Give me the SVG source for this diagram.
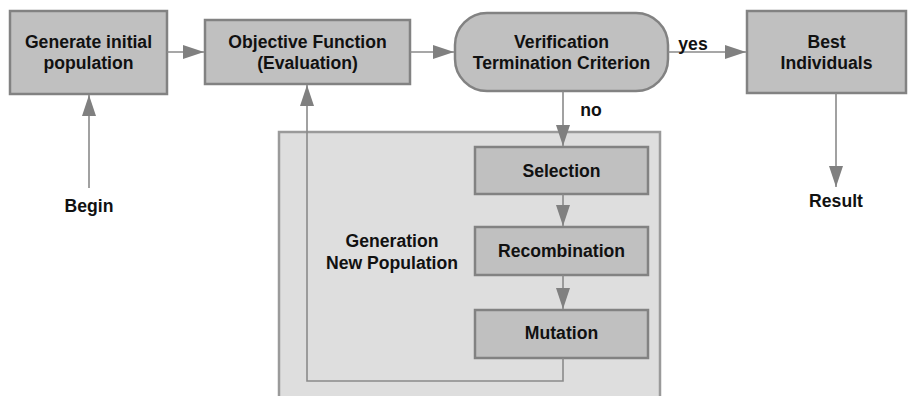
<svg xmlns="http://www.w3.org/2000/svg" width="910" height="396" viewBox="0 0 910 396">
<style>
.box{fill:#c0c0c0;stroke:#828282;stroke-width:2.5}
.cont{fill:#dedede;stroke:#9a9a9a;stroke-width:2.5}
.t{font-family:"Liberation Sans",Arial,sans-serif;font-weight:bold;font-size:17.6px;fill:#111;text-anchor:middle}
.c{fill:none;stroke:#8a8a8a;stroke-width:1.6}
</style>
<defs>
<marker id="ah" markerUnits="userSpaceOnUse" markerWidth="22" markerHeight="14" refX="21" refY="7" orient="auto">
<path d="M0,0 L21,7 L0,14 Z" fill="#808080"/>
</marker>
</defs>
<rect id="container" class="cont" x="279" y="132" width="381" height="280"/>
<g id="n-generate"><rect class="box" x="10" y="11" width="157" height="83"/><text class="t" x="88.5" y="48">Generate initial</text><text class="t" x="88.5" y="69">population</text></g>
<g id="n-objective"><rect class="box" x="205" y="20" width="205" height="64"/><text class="t" x="307.5" y="48">Objective Function</text><text class="t" x="307.5" y="69">(Evaluation)</text></g>
<g id="n-verification"><rect class="box" x="455" y="13" width="213" height="78" rx="32" ry="32"/><text class="t" x="561.5" y="48">Verification</text><text class="t" x="561.5" y="69">Termination Criterion</text></g>
<g id="n-best"><rect class="box" x="747" y="11" width="159" height="82"/><text class="t" x="826.5" y="48">Best</text><text class="t" x="826.5" y="69">Individuals</text></g>
<g id="n-selection"><rect class="box" x="475" y="147" width="173" height="47"/><text class="t" x="561.5" y="177">Selection</text></g>
<g id="n-recombination"><rect class="box" x="475" y="227" width="173" height="48"/><text class="t" x="561.5" y="257">Recombination</text></g>
<g id="n-mutation"><rect class="box" x="475" y="310" width="173" height="48"/><text class="t" x="561.5" y="339">Mutation</text></g>
<g id="n-genpop"><text class="t" x="392" y="247">Generation</text><text class="t" x="392" y="269">New Population</text></g>
<g id="n-begin"><text class="t" x="89" y="212">Begin</text></g>
<g id="n-result"><text class="t" x="836" y="207">Result</text></g>
<g id="connectors">
<line class="c" x1="167" y1="52" x2="204" y2="52" marker-end="url(#ah)"/>
<line class="c" x1="410" y1="52" x2="454" y2="52" marker-end="url(#ah)"/>
<line class="c" x1="668" y1="52" x2="746" y2="52" marker-end="url(#ah)"/>
<text class="t" x="693" y="50">yes</text>
<line class="c" x1="563" y1="91" x2="563" y2="146" marker-end="url(#ah)"/>
<text class="t" x="591" y="116">no</text>
<line class="c" x1="563" y1="194" x2="563" y2="226" marker-end="url(#ah)"/>
<line class="c" x1="563" y1="275" x2="563" y2="309" marker-end="url(#ah)"/>
<polyline class="c" points="563,358 563,381 307,381 307,85" marker-end="url(#ah)"/>
<line class="c" x1="89" y1="188" x2="89" y2="95" marker-end="url(#ah)"/>
<line class="c" x1="836" y1="93" x2="836" y2="187" marker-end="url(#ah)"/>
</g>
</svg>
